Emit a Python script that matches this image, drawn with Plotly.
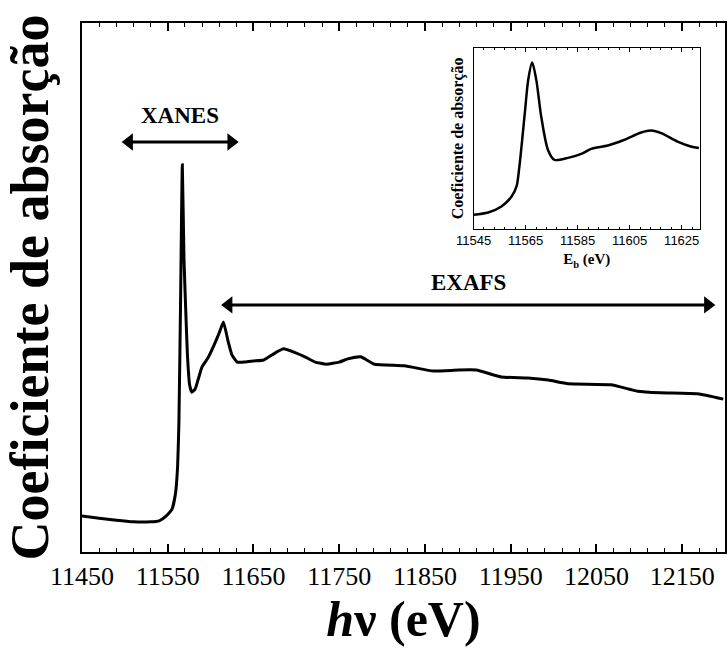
import plotly.graph_objects as go

# Main XAS spectrum (energy in eV, normalized absorption)
energy = [11450, 11470, 11490, 11510, 11530, 11540, 11548, 11555, 11559, 11561.5,
          11563, 11565, 11567, 11569, 11571, 11573, 11575.5, 11578, 11582, 11586,
          11590, 11597, 11604, 11610, 11615, 11620, 11625, 11631, 11640, 11650,
          11662, 11672, 11685, 11700, 11710, 11722, 11735, 11750, 11760, 11775,
          11791, 11826, 11860, 11889, 11910, 11939, 11970, 11994, 12017, 12067,
          12098, 12125, 12168, 12198]
absorb = [0.068, 0.064, 0.060, 0.057, 0.057, 0.059, 0.068, 0.081, 0.110, 0.161,
          0.242, 0.476, 0.732, 0.552, 0.457, 0.372, 0.316, 0.302, 0.308, 0.329,
          0.350, 0.367, 0.391, 0.414, 0.435, 0.401, 0.372, 0.359, 0.359, 0.361,
          0.363, 0.373, 0.384, 0.376, 0.369, 0.359, 0.355, 0.359, 0.365, 0.369,
          0.355, 0.352, 0.342, 0.344, 0.344, 0.331, 0.329, 0.325, 0.318, 0.316,
          0.304, 0.301, 0.299, 0.289]

# Inset XANES region
inset_energy = [11545, 11550.6, 11555.7, 11559.6, 11561.5, 11562.6, 11564.7, 11566,
                11567.5, 11569.1, 11571, 11573.6, 11576.1, 11581.3, 11586.4, 11590.2,
                11596.6, 11603, 11609.4, 11613.2, 11617.1, 11623.4, 11628.5, 11631.6]
inset_absorb = [0.077, 0.090, 0.123, 0.178, 0.234, 0.344, 0.641, 0.823,
                0.919, 0.823, 0.620, 0.436, 0.381, 0.392, 0.414, 0.442,
                0.460, 0.492, 0.532, 0.543, 0.529, 0.482, 0.455, 0.446]

main_ticks = [11450, 11550, 11650, 11750, 11850, 11950, 12050, 12150]
inset_ticks = [11545, 11565, 11585, 11605, 11625]

# Region markers: (label, start, end, arrow level, label level)
xanes = ("XANES", 11505, 11624, 0.775, 0.826)
exafs = ("EXAFS", 11621, 12180, 0.467, 0.509)

SERIF = "Liberation Serif"
SANS = "Liberation Sans"

fig = go.Figure()
fig.add_trace(go.Scatter(x=energy, y=absorb, mode="lines",
                         line=dict(color="black", width=3, shape="spline", smoothing=0.4),
                         showlegend=False, xaxis="x", yaxis="y"))
fig.add_trace(go.Scatter(x=inset_energy, y=inset_absorb, mode="lines",
                         line=dict(color="black", width=2.5, shape="spline", smoothing=0.8),
                         showlegend=False, xaxis="x2", yaxis="y2"))

annotations = []
for label, x0, x1, ya, yt in (xanes, exafs):
    fig.add_trace(go.Scatter(x=[x0, x1], y=[ya, ya], mode="lines+markers",
                             line=dict(color="black", width=3),
                             marker=dict(symbol=["triangle-left", "triangle-right"],
                                         size=15, color="black"),
                             showlegend=False, hoverinfo="skip",
                             xaxis="x", yaxis="y"))
    annotations.append(dict(x=(x0 + x1) / 2, y=yt, xref="x", yref="y", text="<b>%s</b>" % label,
                            showarrow=False, font=dict(family=SERIF, size=23, color="black")))

fig.update_layout(
    width=728, height=648,
    margin=dict(l=82, r=1, t=23, b=96),
    paper_bgcolor="white", plot_bgcolor="white",
    annotations=annotations,
    xaxis=dict(range=[11450, 12200], tickvals=main_ticks,
               ticktext=[str(t) for t in main_ticks], ticks="inside", ticklen=8,
               tickwidth=1.5, tickcolor="black", showline=True, linewidth=2,
               linecolor="black", mirror="ticks", showgrid=False, zeroline=False,
               minor=dict(dtick=20, tick0=11450, ticks="inside", ticklen=4,
                          tickwidth=1.2, tickcolor="black"),
               tickfont=dict(family=SERIF, size=26, color="black"),
               title=dict(text="<b><i>h</i>ν (eV)</b>", standoff=6,
                          font=dict(family=SERIF, size=50, color="black"))),
    yaxis=dict(range=[0, 1], showticklabels=False, ticks="", showline=True,
               linewidth=2, linecolor="black", mirror=True, showgrid=False,
               zeroline=False,
               title=dict(text="<b>Coeficiente de absorção</b>", standoff=14,
                          font=dict(family=SERIF, size=54, color="black"))),
    xaxis2=dict(domain=[0.609, 0.961], anchor="y2", range=[11545, 11632],
                tickvals=inset_ticks, ticktext=[str(t) for t in inset_ticks],
                ticks="inside", ticklen=4, tickwidth=1,
                tickcolor="black", showline=True, linewidth=1.2, linecolor="black",
                mirror="ticks", showgrid=False, zeroline=False,
                minor=dict(dtick=4, tick0=11545, ticks="inside", ticklen=2,
                           tickwidth=1, tickcolor="black"),
                tickfont=dict(family=SANS, size=13, color="black"),
                title=dict(text="<b>E<sub>b</sub> (eV)</b>", standoff=6,
                           font=dict(family=SERIF, size=15, color="black"))),
    yaxis2=dict(domain=[0.611, 0.953], anchor="x2", range=[0, 1],
                showticklabels=False, ticks="", showline=True, linewidth=1.2,
                linecolor="black", mirror=True, showgrid=False, zeroline=False,
                title=dict(text="<b>Coeficiente de absorção</b>", standoff=4,
                           font=dict(family=SERIF, size=16, color="black"))),
)

fig.write_html("out.html")
